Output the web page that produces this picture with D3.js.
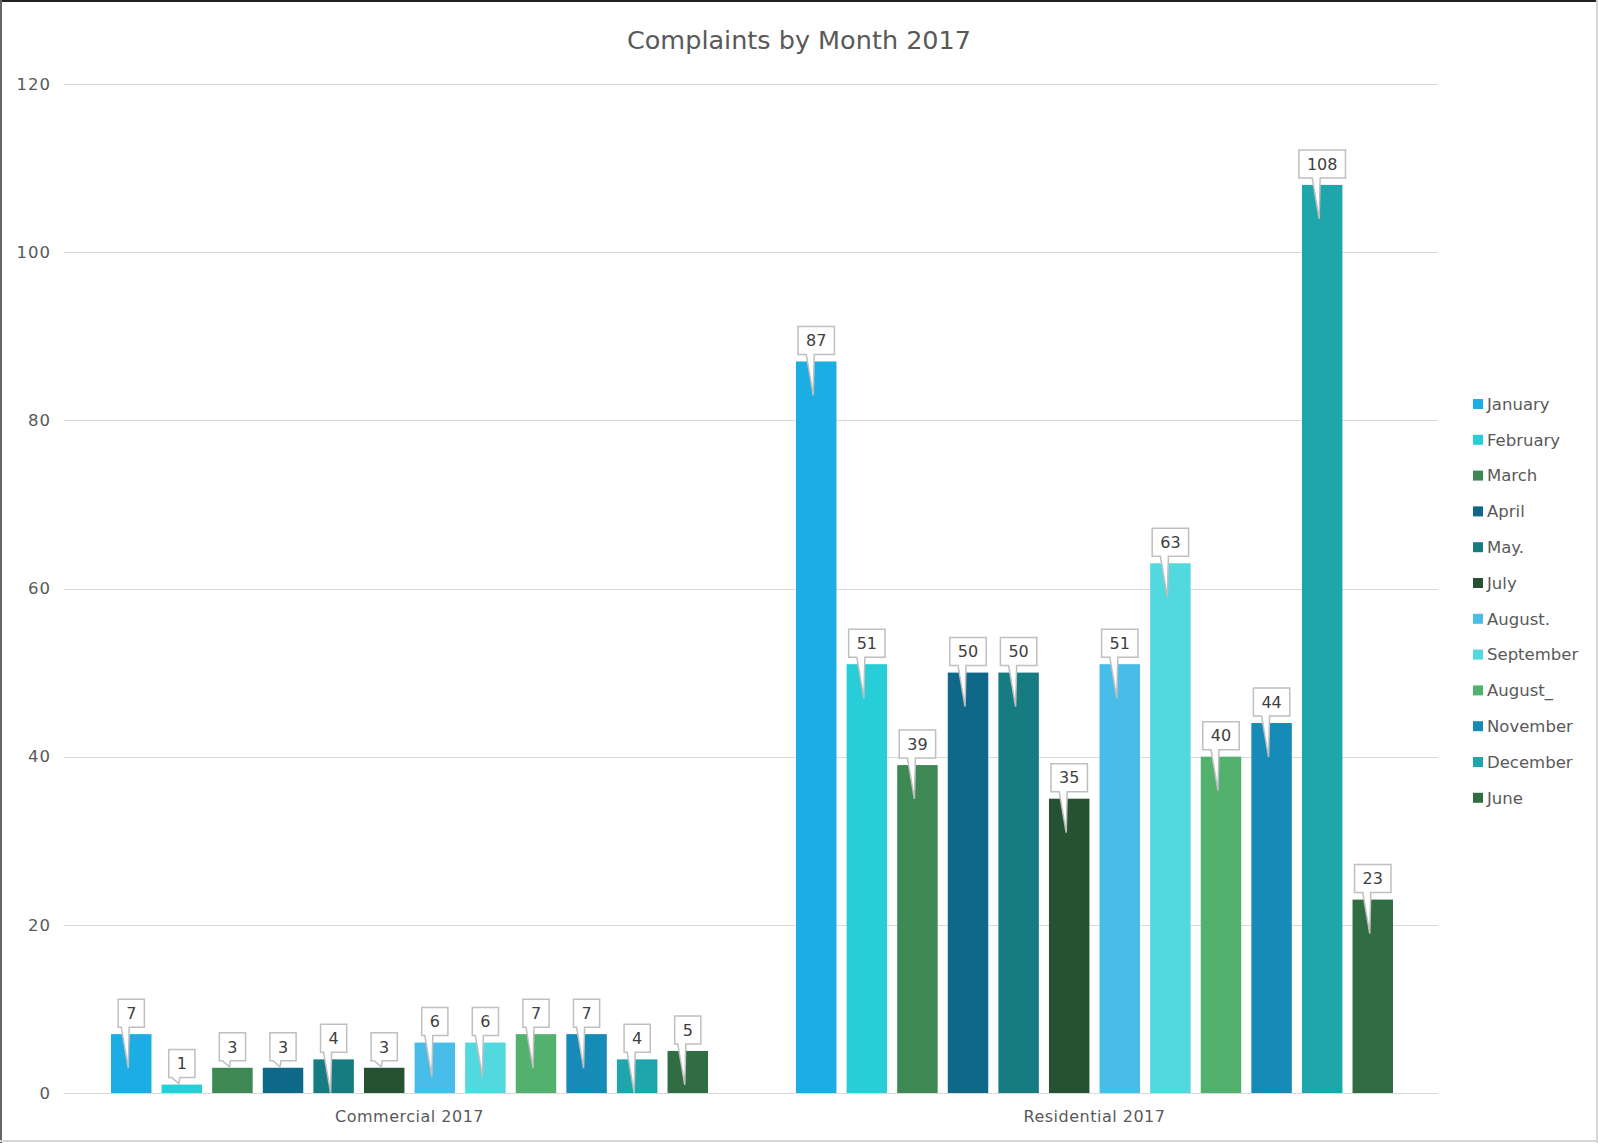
<!DOCTYPE html>
<html>
<head>
<meta charset="utf-8">
<script src="https://cdn.jsdelivr.net/npm/d3@7"></script>
<style>
  html, body { margin: 0; padding: 0; background: #ffffff; }
  svg { display: block; }
  text { font-family: "DejaVu Sans", sans-serif; }
</style>
</head>
<body>
<svg id="chart" width="1598" height="1143"></svg>
<script>
// ---- data ----
const categories = ["Commercial 2017", "Residential 2017"];
const months = ["January", "February", "March", "April", "May.", "July", "August.", "September", "August_", "November", "December", "June"];
const commercial = [7, 1, 3, 3, 4, 3, 6, 6, 7, 7, 4, 5];
const residential = [87, 51, 39, 50, 50, 35, 51, 63, 40, 44, 108, 23];
const monthColors = ["#1CADE4", "#27CED7", "#3E8853", "#106889", "#177C81", "#255232", "#49BDE9", "#52D8DF", "#53B16E", "#168BB7", "#1FA5AC", "#316D42"];
const yTicks = [0, 20, 40, 60, 80, 100, 120];
const title = "Complaints by Month 2017";

// ---- layout ----
const W = 1598, H = 1143;
const plot = { left: 64, right: 1438, top: 84, bottom: 1093 };
const svg = d3.select("#chart");

// frame
svg.append("rect").attr("x", 0).attr("y", 0).attr("width", W).attr("height", H).attr("fill", "#fff");
svg.append("line").attr("x1", 0).attr("x2", W).attr("y1", 1).attr("y2", 1).attr("stroke", "#222").attr("stroke-width", 2);
svg.append("line").attr("x1", 1).attr("x2", 1).attr("y1", 0).attr("y2", H).attr("stroke", "#666").attr("stroke-width", 2);
svg.append("line").attr("x1", W - 1).attr("x2", W - 1).attr("y1", 0).attr("y2", H).attr("stroke", "#d6d6d6").attr("stroke-width", 2);
svg.append("line").attr("x1", 0).attr("x2", W).attr("y1", H - 2).attr("y2", H - 2).attr("stroke", "#d6d6d6").attr("stroke-width", 2);

const table = categories.map((c, i) => ({
  category: c,
  values: months.map((m, j) => ({ month: m, value: (i === 0 ? commercial : residential)[j], color: monthColors[j] }))
}));

const y = d3.scaleLinear().domain([0, 120]).range([plot.bottom, plot.top]);
const x0 = d3.scaleBand().domain(categories).range([plot.left, plot.right - 4]).paddingInner(0).paddingOuter(0);
const x1 = d3.scaleBand().domain(months).range([47, x0.bandwidth() - 41]).paddingInner(0.2).paddingOuter(0);

// title
svg.append("text").attr("x", W / 2).attr("y", 49).attr("text-anchor", "middle")
  .attr("font-size", 25.5).attr("fill", "#595959").text(title);

// gridlines
svg.append("g").selectAll("line").data(yTicks).join("line")
  .attr("x1", plot.left).attr("x2", plot.right)
  .attr("y1", d => Math.round(y(d)) + 0.5).attr("y2", d => Math.round(y(d)) + 0.5)
  .attr("stroke", "#d9d9d9").attr("stroke-width", 1);

// y axis
const yAxis = svg.append("g").attr("transform", `translate(${plot.left},0)`)
  .call(d3.axisLeft(y).tickValues(yTicks).tickSize(0).tickPadding(13).tickFormat(d3.format("d")));
yAxis.select(".domain").remove();
yAxis.selectAll("text").attr("font-size", 16.5).attr("fill", "#595959").attr("font-family", "DejaVu Sans").attr("letter-spacing", 1);

// x axis
const xAxis = svg.append("g").attr("transform", `translate(3,${plot.bottom})`)
  .call(d3.axisBottom(x0).tickSize(0).tickPadding(18));
xAxis.select(".domain").remove();
xAxis.selectAll("text").attr("font-size", 16).attr("fill", "#595959").attr("font-family", "DejaVu Sans").attr("letter-spacing", 0.5);

// bars
const groups = svg.append("g").selectAll("g").data(table).join("g")
  .attr("transform", d => `translate(${x0(d.category)},0)`);
groups.selectAll("rect").data(d => d.values).join("rect")
  .attr("x", d => x1(d.month)).attr("width", x1.bandwidth())
  .attr("y", d => y(d.value)).attr("height", d => y(0) - y(d.value))
  .attr("fill", d => d.color);

// callouts
const boxH = 28;
const callouts = groups.selectAll("g.callout").data(d => d.values).join("g").attr("class", "callout");
callouts.each(function (d) {
  const g = d3.select(this);
  const cx = x1(d.month) + x1.bandwidth() / 2;
  const top = y(d.value);
  const barH = y(0) - top;
  const label = String(d.value);
  const bw = 16 + 10.2 * label.length;
  const bottom = top - 7;
  const btop = bottom - boxH;
  const left = cx - bw / 2, right = cx + bw / 2;
  const tipY = barH > 30 ? Math.min(top + 34, y(0)) : bottom + 6;
  const tipX = cx - 3;
  const path = `M${left},${btop} H${right} V${bottom} H${cx - 2} L${tipX},${tipY} L${cx - 10},${bottom} H${left} Z`;
  g.append("path").attr("d", path).attr("fill", "#fff").attr("stroke", "#bfbfbf").attr("stroke-width", 1.5)
    .attr("stroke-linejoin", "miter");
  g.append("text").attr("x", cx).attr("y", btop + boxH / 2).attr("dy", "0.36em")
    .attr("text-anchor", "middle").attr("font-size", 16).attr("fill", "#404040").text(label);
});

// legend
const legend = svg.append("g").attr("transform", "translate(1473,404)");
const li = legend.selectAll("g").data(months).join("g")
  .attr("transform", (d, i) => `translate(0,${i * 35.8})`);
li.append("rect").attr("x", 0).attr("y", -5).attr("width", 10).attr("height", 10)
  .attr("fill", (d, i) => monthColors[i]);
li.append("text").attr("x", 14).attr("y", 0).attr("dy", "0.35em")
  .attr("font-size", 16.5).attr("fill", "#595959").text(d => d);
</script>
</body>
</html>
